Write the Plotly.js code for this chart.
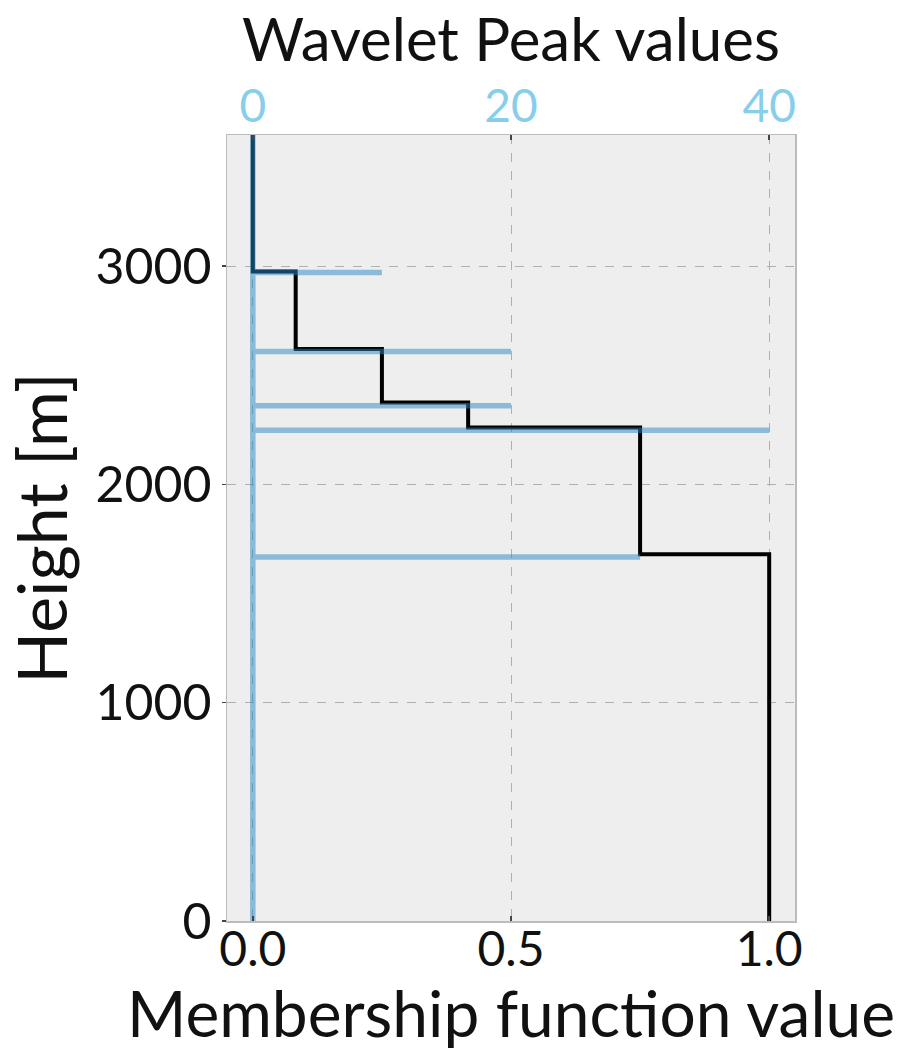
<!DOCTYPE html>
<html>
<head>
<meta charset="utf-8">
<script src="https://cdn.plot.ly/plotly-3.0.1.min.js"></script>
<style>body{margin:0;padding:0;background:#fff;}#chart{width:919px;height:1053px;}</style>
</head>
<body>
<div id="chart"></div>
<script>
// Membership function (step profile): value vs height [m]
const membershipValue = [0, 0, 0.083, 0.083, 0.25, 0.25, 0.417, 0.417, 0.75, 0.75, 1.0, 1.0];
const membershipHeight = [3600, 2975, 2975, 2620, 2620, 2375, 2375, 2260, 2260, 1680, 1680, 0];

// Wavelet peak profile: value vs height [m] (zero except at the peaks)
const waveletValue = [0, 0, 30, 0, 0, 40, 0, 0, 20, 0, 0, 20, 0, 0, 10, 0, 0];
const waveletHeight = [0, 1667, 1667, 1667, 2248, 2248, 2248, 2360, 2360, 2360, 2608, 2608, 2608, 2970, 2970, 2970, 3600];

// Tick labels
const membershipTicks = [0, 0.5, 1.0];
const waveletTicks = [0, 20, 40];
const heightTicks = [0, 1000, 2000, 3000];

// Axis titles
const bottomTitle = 'Membership function value';
const topTitle = 'Wavelet Peak values';
const leftTitle = 'Height [m]';

const FONT = 'Lato, "Noto Sans", sans-serif';

const traces = [
  {
    x: membershipValue, y: membershipHeight, xaxis: 'x', yaxis: 'y',
    mode: 'lines', line: {color: '#000000', width: 4}, hoverinfo: 'skip', showlegend: false
  },
  {
    x: waveletValue, y: waveletHeight, xaxis: 'x2', yaxis: 'y',
    mode: 'lines', line: {color: 'rgba(40,136,196,0.5)', width: 5.5}, hoverinfo: 'skip', showlegend: false
  }
];

const layout = {
  width: 919, height: 1053,
  margin: {l: 227, r: 124, t: 135, b: 132, pad: 0},
  paper_bgcolor: '#ffffff', plot_bgcolor: '#eeeeee',
  font: {family: FONT, color: '#111111'},
  showlegend: false,
  xaxis: {
    range: [-0.05, 1.05], tickvals: membershipTicks, tickformat: '.1f',
    ticks: 'inside', ticklen: 5, tickwidth: 1.5, tickcolor: '#444',
    ticklabelstandoff: -14,
    showgrid: true, gridcolor: '#b0b0b0', griddash: 'dash', gridwidth: 1,
    zeroline: false, showline: true, linecolor: '#bcbcbc', linewidth: 1.5, mirror: true,
    tickfont: {size: 48, family: FONT, color: '#111'}
  },
  xaxis2: {
    overlaying: 'x', side: 'top', anchor: 'y',
    range: [-2, 42], tickvals: waveletTicks,
    ticks: 'inside', ticklen: 5, tickwidth: 1.5, tickcolor: '#444',
    ticklabelstandoff: 3,
    showgrid: false, zeroline: false, showline: false,
    tickfont: {size: 46, family: FONT, color: '#87ceeb'}
  },
  yaxis: {
    range: [0, 3600], tickvals: heightTicks,
    ticks: 'outside', ticklen: 4, tickwidth: 1.5, tickcolor: '#444',
    showgrid: true, gridcolor: '#b0b0b0', griddash: 'dash', gridwidth: 1,
    zeroline: false, showline: true, linecolor: '#bcbcbc', linewidth: 1.5, mirror: true,
    tickfont: {size: 50, family: FONT, color: '#111'},
    title: {text: leftTitle, font: {size: 68, family: FONT, color: '#111'}, standoff: 10}
  },
  annotations: [
    {text: bottomTitle, xref: 'paper', yref: 'paper', x: 0.5, y: -0.1675,
     xanchor: 'center', yanchor: 'bottom', showarrow: false,
     font: {size: 64, family: FONT, color: '#111'}},
    {text: topTitle, xref: 'paper', yref: 'paper', x: 0.5, y: 1.1715,
     xanchor: 'center', yanchor: 'top', showarrow: false,
     font: {size: 60, family: FONT, color: '#111'}}
  ]
};

Plotly.newPlot('chart', traces, layout, {displayModeBar: false, staticPlot: true});
</script>
</body>
</html>
